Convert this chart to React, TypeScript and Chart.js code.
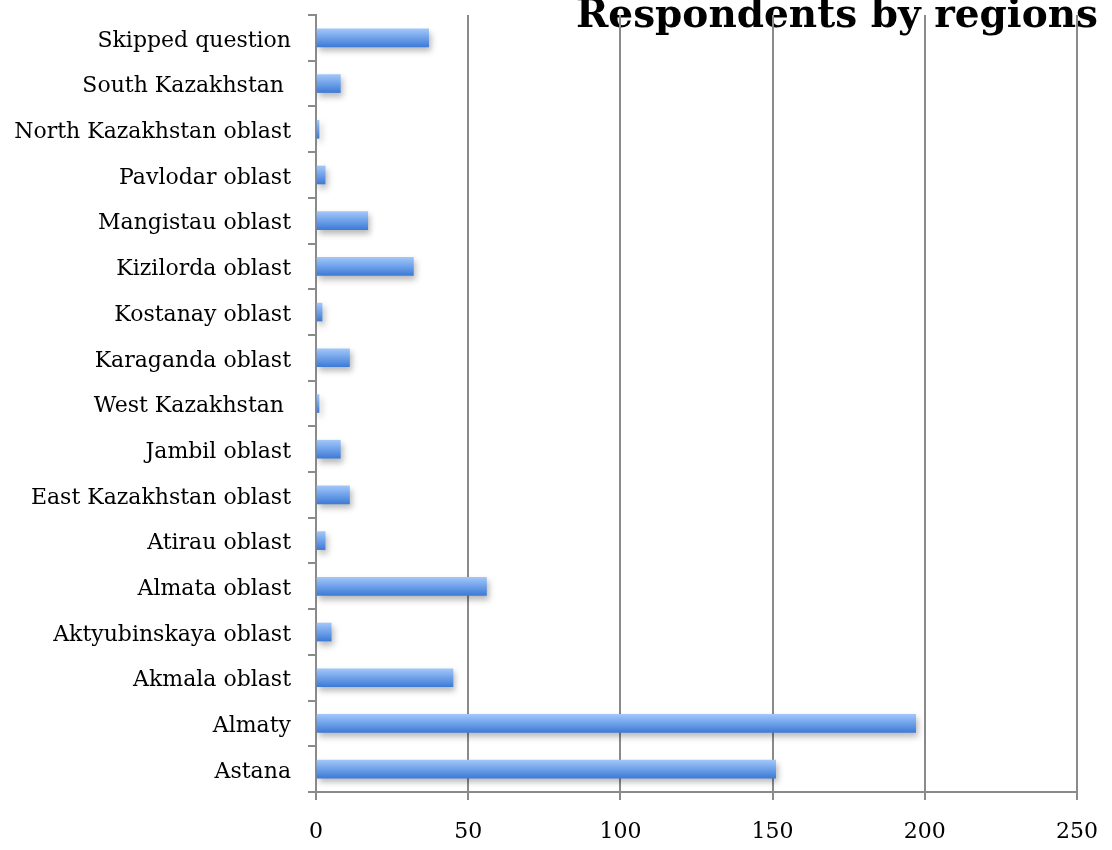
import React, { useEffect, useRef } from 'react';
import { Chart, registerables } from 'chart.js';

Chart.register(...registerables);

const categories = [
  'Skipped question',
  'South Kazakhstan ',
  'North Kazakhstan oblast',
  'Pavlodar oblast',
  'Mangistau oblast',
  'Kizilorda oblast',
  'Kostanay oblast',
  'Karaganda oblast',
  'West Kazakhstan ',
  'Jambil oblast',
  'East Kazakhstan oblast',
  'Atirau oblast',
  'Almata oblast',
  'Aktyubinskaya oblast',
  'Akmala oblast',
  'Almaty',
  'Astana',
];

const respondents = [37, 8, 1, 3, 17, 32, 2, 11, 1, 8, 11, 3, 56, 5, 45, 197, 151];

const xTicks = [0, 50, 100, 150, 200, 250];

const titleText = 'Respondents by regions';

const FONT = '"DejaVu Serif", serif';

function clearScalePadding(s: any) {
  s.paddingTop = 0;
  s.paddingBottom = 0;
  s.paddingLeft = 0;
  s.paddingRight = 0;
}

export default function App() {
  const ref = useRef<HTMLCanvasElement>(null);

  useEffect(() => {
    if (!ref.current) return;

    const titlePlugin = {
      id: 'cornerTitle',
      beforeDraw(chart: any) {
        const ctx = chart.ctx;
        ctx.save();
        ctx.font = 'bold 39px ' + FONT;
        ctx.fillStyle = '#000';
        ctx.textAlign = 'right';
        ctx.textBaseline = 'alphabetic';
        ctx.fillText(titleText, chart.chartArea.right + 21, chart.chartArea.top + 12);
        ctx.restore();
      },
    };

    const shadowPlugin = {
      id: 'barShadow',
      beforeDatasetDraw(chart: any) {
        const c = chart.ctx;
        c.save();
        c.shadowColor = 'rgba(0,0,0,0.28)';
        c.shadowBlur = 6;
        c.shadowOffsetX = 2;
        c.shadowOffsetY = 4;
      },
      afterDatasetDraw(chart: any) {
        chart.ctx.restore();
      },
    };

    const chart = new Chart(ref.current, {
      type: 'bar',
      data: {
        labels: categories,
        datasets: [
          {
            data: respondents,
            barThickness: 18,
            borderWidth: 0,
            backgroundColor: (ctx: any) => {
              const chart = ctx.chart;
              const ys = chart.scales && chart.scales.y;
              if (!ys || ctx.dataIndex === undefined) return '#6b9fe9';
              const c = ys.getPixelForValue(ctx.dataIndex);
              if (!Number.isFinite(c)) return '#6b9fe9';
              const g = chart.ctx.createLinearGradient(0, c - 9, 0, c + 9);
              g.addColorStop(0, '#a2c6f8');
              g.addColorStop(0.45, '#73a5ec');
              g.addColorStop(1, '#3e7bd5');
              return g;
            },
          },
        ],
      },
      options: {
        indexAxis: 'y',
        responsive: false,
        maintainAspectRatio: false,
        animation: false,
        layout: { autoPadding: false, padding: { top: 15, right: 35, left: 0, bottom: 0 } },
        plugins: {
          legend: { display: false },
          tooltip: { enabled: false },
          title: { display: false },
        },
        scales: {
          x: {
            min: 0,
            max: 250,
            afterBuildTicks: (s: any) => {
              s.ticks = xTicks.map((v) => ({ value: v }));
            },
            ticks: {
              color: '#000',
              font: { family: FONT, size: 22 },
              padding: 19,
              maxRotation: 0,
            },
            grid: { color: '#8a8a8a', lineWidth: 2, tickLength: 8, drawTicks: true },
            border: { color: '#8a8a8a', width: 2 },
            afterFit: (s: any) => {
              s.height = 58;
              clearScalePadding(s);
            },
          },
          y: {
            ticks: {
              color: '#000',
              font: { family: FONT, size: 22 },
              padding: 17,
              labelOffset: 3,
              autoSkip: false,
            },
            grid: {
              drawOnChartArea: false,
              color: '#8a8a8a',
              lineWidth: 2,
              tickLength: 8,
              offset: true,
            },
            border: { color: '#8a8a8a', width: 2 },
            afterFit: (s: any) => {
              s.width = 316;
              clearScalePadding(s);
            },
          },
        },
      } as any,
      plugins: [titlePlugin, shadowPlugin],
    });

    chart.update();

    return () => chart.destroy();
  }, []);

  return (
    <div style={{ position: 'absolute', left: 0, top: 0, width: 1112, height: 850, background: '#fff' }}>
      <canvas ref={ref} width={1112} height={850} style={{ display: 'block', width: 1112, height: 850 }} />
    </div>
  );
}
